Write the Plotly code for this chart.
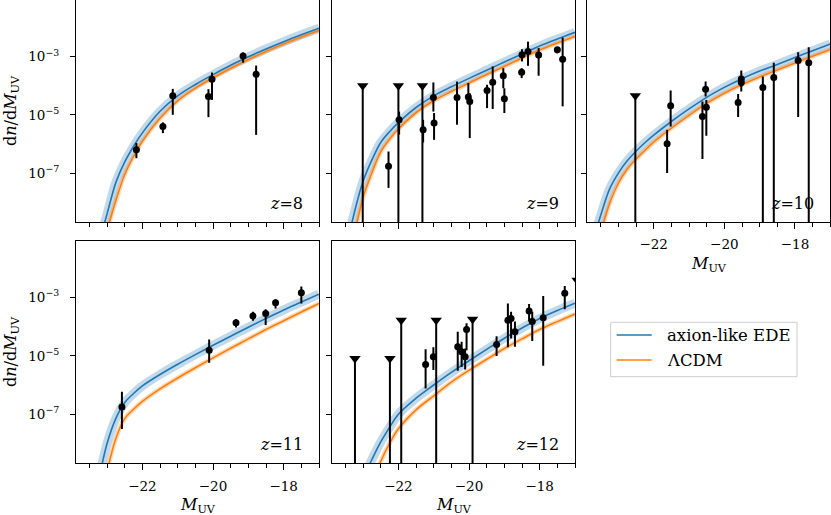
import plotly.graph_objects as go

M_GRID = [-24.0, -23.75, -23.5, -23.25, -23.0, -22.75, -22.5, -22.25, -22.0,
          -21.5, -21.0, -20.5, -20.0, -19.5, -19.0, -18.5, -18.0, -17.5, -17.0]

# log10 dn/dM_UV of the two models, one list per redshift
ede_z8 = [-13.1, -11.75, -10.55, -9.5, -8.4, -7.32, -6.62, -6.08, -5.62,
          -4.88, -4.35, -3.96, -3.62, -3.3, -3.01, -2.74, -2.49, -2.255, -2.03]
lcdm_z8 = [-13.8, -12.41, -11.17, -10.05, -8.97, -7.94, -7.05, -6.43, -5.91,
           -5.12, -4.52, -4.085, -3.73, -3.40, -3.10, -2.826, -2.57, -2.33, -2.10]
ede_z9 = [-12.5, -11.0, -9.7, -8.37, -7.28, -6.55, -5.95, -5.58, -5.27,
          -4.75, -4.35, -4.04, -3.75, -3.47, -3.19, -2.91, -2.64, -2.4, -2.17]
lcdm_z9 = [-13.5, -11.9, -10.53, -9.14, -7.84, -6.99, -6.27, -5.84, -5.49,
           -4.93, -4.52, -4.2, -3.91, -3.62, -3.34, -3.05, -2.78, -2.54, -2.31]
ede_z10 = [-10.5, -9.45, -8.45, -7.55, -7.0, -6.58, -6.25, -5.96, -5.7,
           -5.23, -4.8, -4.4, -4.06, -3.76, -3.5, -3.27, -3.03, -2.8, -2.57]
lcdm_z10 = [-11.3, -10.15, -9.05, -8.05, -7.35, -6.87, -6.52, -6.22, -5.94,
            -5.46, -5.02, -4.61, -4.26, -3.96, -3.7, -3.46, -3.22, -2.99, -2.76]
ede_z11 = [-13.7, -12.1, -10.6, -9.3, -8.0, -7.14, -6.6, -6.29, -6.03,
           -5.64, -5.29, -4.96, -4.64, -4.33, -4.02, -3.72, -3.43, -3.16, -2.89]
lcdm_z11 = [-14.8, -13.2, -11.7, -10.3, -8.95, -7.82, -7.15, -6.83, -6.56,
            -6.13, -5.76, -5.41, -5.07, -4.74, -4.42, -4.1, -3.8, -3.5, -3.21]
ede_z12 = [-14.0, -12.7, -11.5, -10.2, -9.2, -8.55, -7.95, -7.45, -7.0,
           -6.45, -6.0, -5.57, -5.17, -4.78, -4.4, -4.05, -3.72, -3.45, -3.2]
lcdm_z12 = [-15.0, -13.6, -12.4, -11.2, -10.1, -9.4, -8.62, -8.0, -7.5,
            -6.85, -6.37, -5.9, -5.5, -5.12, -4.75, -4.42, -4.1, -3.83, -3.57]

# measurements: (M_UV, log10 phi, log10 upper end, log10 lower end or None)
obs_z8 = [(-22.17, -6.20, -5.97, -6.49), (-21.42, -5.40, -5.26, -5.63),
          (-21.14, -4.35, -4.11, -5.00), (-20.13, -4.37, -4.12, -5.08),
          (-20.03, -3.78, -3.55, -4.49), (-19.15, -2.98, -2.86, -3.21),
          (-18.78, -3.61, -3.31, -5.69)]
obs_z9 = [(-22.28, -6.77, -6.26, -7.51), (-21.98, -5.17, -4.89, -5.68),
          (-21.30, -5.51, -5.17, -5.95), (-21.01, -4.41, -3.89, -4.89),
          (-20.99, -5.28, -4.94, -5.86), (-20.34, -4.41, -3.86, -5.34),
          (-20.02, -4.39, -3.91, -4.49), (-19.98, -4.54, -4.26, -5.80),
          (-19.49, -4.17, -3.97, -4.77), (-19.33, -3.88, -3.34, -4.80),
          (-19.03, -3.66, -3.40, -4.09), (-19.00, -4.45, -4.09, -4.94),
          (-18.51, -3.54, -3.40, -3.74), (-18.50, -2.94, -2.75, -3.17),
          (-18.33, -2.83, -2.49, -3.32), (-18.03, -2.95, -2.71, -3.66),
          (-17.50, -2.77, -2.71, -2.89), (-17.35, -3.09, -2.35, -4.71)]
obs_z10 = [(-21.62, -5.99, -5.51, -7.00), (-21.52, -4.69, -4.17, -5.40),
           (-20.62, -5.06, -4.54, -6.52), (-20.53, -4.12, -3.86, -4.37),
           (-20.51, -4.74, -4.49, -5.72), (-19.61, -4.58, -4.29, -5.08),
           (-19.52, -3.77, -3.48, -4.05), (-19.52, -3.89, -3.69, -4.20),
           (-18.91, -4.06, -3.69, None), (-18.60, -3.72, -3.21, None),
           (-17.91, -3.14, -2.85, -5.08), (-17.61, -3.21, -2.68, None)]
obs_z11 = [(-22.58, -6.75, -6.23, -7.51), (-20.11, -4.81, -4.44, -5.24),
           (-19.35, -3.87, -3.75, -4.03), (-18.87, -3.64, -3.49, -3.80),
           (-18.51, -3.55, -3.41, -3.95), (-18.23, -3.18, -3.07, -3.38),
           (-17.50, -2.84, -2.63, -3.21)]
obs_z12 = [(-21.23, -5.30, -4.78, -6.12), (-21.01, -5.03, -4.71, -5.49),
           (-20.32, -4.69, -4.18, -5.51), (-20.21, -4.86, -4.52, -5.38),
           (-20.11, -5.03, -4.75, -5.47), (-20.07, -4.10, -3.89, -4.81),
           (-19.22, -4.61, -4.33, -5.01), (-18.90, -3.78, -3.21, -4.71),
           (-18.81, -3.72, -3.49, -4.41), (-18.70, -4.18, -3.83, -4.69),
           (-18.30, -3.47, -3.23, -3.83), (-18.21, -3.83, -3.49, -4.49),
           (-17.90, -3.70, -2.95, -5.34), (-17.29, -2.86, -2.61, -3.41)]

# upper limits: (M_UV, log10 phi)
lims_z8 = []
lims_z9 = [(-23.01, -4.0), (-22.0, -4.0), (-21.32, -4.0)]
lims_z10 = [(-22.52, -4.35)]
lims_z11 = []
lims_z12 = [(-23.23, -5.09), (-22.24, -5.09), (-21.92, -3.78),
            (-20.93, -3.78), (-19.90, -3.75), (-16.94, -2.41)]

X_TICKS = [-22, -20, -18]
X_TICKTEXT = ["\u221222", "\u221220", "\u221218"]
Y_TICKS = [1e-7, 1e-5, 1e-3]
Y_TICKTEXT = ["10<sup>\u22127</sup>", "10<sup>\u22125</sup>", "10<sup>\u22123</sup>"]

panels = [
    (8, ede_z8, lcdm_z8, obs_z8, lims_z8),
    (9, ede_z9, lcdm_z9, obs_z9, lims_z9),
    (10, ede_z10, lcdm_z10, obs_z10, lims_z10),
    (11, ede_z11, lcdm_z11, obs_z11, lims_z11),
    (12, ede_z12, lcdm_z12, obs_z12, lims_z12),
]

W, H = 831, 515
COLS = [(76, 319), (332, 575), (587.3, 830.3)]
ROWS = [(0, 222), (240.7, 463.3)]
XRANGE = [-23.88, -17.0]
YRANGE = [-8.68, -1.06]
FLOOR = 1e-12  # lower end for bars that run off the bottom

BLUE = "#1f77b4"
ORANGE = "#ff7f0e"
FONT = "DejaVu Serif"

fig = go.Figure()
layout = {}
annotations = []

for i, (z, ede, lcdm, obs, lims) in enumerate(panels):
    row, col = divmod(i, 3)
    ax = "" if i == 0 else str(i + 1)
    xa, ya = "x" + ax, "y" + ax
    x0, x1 = COLS[col]
    y0, y1 = ROWS[row]

    layout["xaxis" + ax] = dict(
        domain=[x0 / W, x1 / W], anchor=ya, range=XRANGE,
        tickmode="array", tickvals=X_TICKS, ticktext=X_TICKTEXT,
        showticklabels=(i >= 2), ticks="outside", ticklen=6, tickwidth=1,
        tickcolor="black", ticklabelstandoff=4,
        minor=dict(dtick=0.5, ticks="outside", ticklen=3.5, tickwidth=1,
                   tickcolor="black", showgrid=False),
        showline=True, linecolor="black", linewidth=1, mirror=(row == 1),
        showgrid=False, zeroline=False,
        tickfont=dict(family=FONT, size=13.5, color="black"),
    )
    layout["yaxis" + ax] = dict(
        domain=[1 - y1 / H, 1 - y0 / H], anchor=xa, type="log", range=YRANGE,
        tickmode="array", tickvals=Y_TICKS, ticktext=Y_TICKTEXT,
        showticklabels=(col == 0), ticks="outside", ticklen=5, tickwidth=1,
        tickcolor="black", ticklabelstandoff=8,
        showline=True, linecolor="black", linewidth=1, mirror=True,
        showgrid=False, zeroline=False,
        tickfont=dict(family=FONT, size=13.5, color="black"),
    )

    ede_y = [10 ** v for v in ede]
    lcdm_y = [10 ** v for v in lcdm]
    # posterior bands, then the best-fit curves
    fig.add_trace(go.Scatter(x=M_GRID, y=ede_y, mode="lines", xaxis=xa, yaxis=ya,
                             line=dict(color="rgba(31,119,180,0.28)", width=9, shape="spline"),
                             hoverinfo="skip"))
    fig.add_trace(go.Scatter(x=M_GRID, y=lcdm_y, mode="lines", xaxis=xa, yaxis=ya,
                             line=dict(color="rgba(255,127,14,0.3)", width=4.5, shape="spline"),
                             hoverinfo="skip"))
    fig.add_trace(go.Scatter(x=M_GRID, y=lcdm_y, mode="lines", xaxis=xa, yaxis=ya,
                             line=dict(color=ORANGE, width=1.6, shape="spline"),
                             name="\u039bCDM"))
    fig.add_trace(go.Scatter(x=M_GRID, y=ede_y, mode="lines", xaxis=xa, yaxis=ya,
                             line=dict(color=BLUE, width=1.6, shape="spline"),
                             name="axion-like EDE"))

    if lims:
        lm = [p[0] for p in lims]
        lp = [10 ** p[1] for p in lims]
        fig.add_trace(go.Scatter(
            x=lm, y=lp, mode="markers", xaxis=xa, yaxis=ya,
            marker=dict(symbol="triangle-down", size=10, color="black"),
            error_y=dict(type="data", symmetric=False, array=[0] * len(lp),
                         arrayminus=[v - FLOOR for v in lp],
                         color="black", thickness=2, width=0)))

    om = [p[0] for p in obs]
    op = [10 ** p[1] for p in obs]
    up = [10 ** p[2] - 10 ** p[1] for p in obs]
    dn = [10 ** p[1] - (FLOOR if p[3] is None else 10 ** p[3]) for p in obs]
    fig.add_trace(go.Scatter(
        x=om, y=op, mode="markers", xaxis=xa, yaxis=ya,
        marker=dict(symbol="circle", size=7, color="black"),
        error_y=dict(type="data", symmetric=False, array=up, arrayminus=dn,
                     color="black", thickness=2, width=0)))

    annotations.append(dict(
        xref=xa + " domain", yref=ya + " domain", x=1 - 14 / (x1 - x0), y=19 / (y1 - y0),
        xanchor="right", yanchor="middle", showarrow=False,
        text="<i>z</i>=%d" % z, font=dict(family=FONT, size=16, color="black")))

    if i >= 2:
        annotations.append(dict(
            xref="paper", yref="paper", x=(x0 + x1) / 2 / W, y=1 - (y1 + 42) / H,
            xanchor="center", yanchor="middle", showarrow=False,
            text="<i>M</i><sub>UV</sub>", font=dict(family=FONT, size=16, color="black")))

for y0, y1 in ROWS:
    annotations.append(dict(
        xref="paper", yref="paper", x=11 / W, y=1 - (y0 + y1) / 2 / H,
        xanchor="center", yanchor="middle", showarrow=False, textangle=-90,
        text="d<i>n</i>/d<i>M</i><sub>UV</sub>", font=dict(family=FONT, size=16, color="black")))

# legend box in the empty sixth slot
shapes = [dict(type="rect", xref="paper", yref="paper",
               x0=610.7 / W, x1=797 / W, y0=1 - 376.7 / H, y1=1 - 322.3 / H,
               line=dict(color="#cccccc", width=1), fillcolor="white")]
for k, (label, color) in enumerate([("axion-like EDE", BLUE), ("\u039bCDM", ORANGE)]):
    yy = 1 - (335 + 25 * k) / H
    shapes.append(dict(type="line", xref="paper", yref="paper",
                       x0=616.7 / W, x1=651.7 / W, y0=yy, y1=yy,
                       line=dict(color=color, width=1.6)))
    annotations.append(dict(xref="paper", yref="paper", x=665 / W, y=yy,
                            xanchor="left", yanchor="middle", showarrow=False,
                            text=label, font=dict(family=FONT, size=16.5, color="black")))

fig.update_layout(
    width=W, height=H, margin=dict(l=0, r=0, t=0, b=0),
    paper_bgcolor="white", plot_bgcolor="white", showlegend=False,
    font=dict(family=FONT, color="black"),
    annotations=annotations, shapes=shapes, **layout)

# drop the browser's default 8px page margin so the figure sits at the corner
fig.write_html("out.html", config={"displayModeBar": False},
               post_script="document.body.style.margin = '0';")
